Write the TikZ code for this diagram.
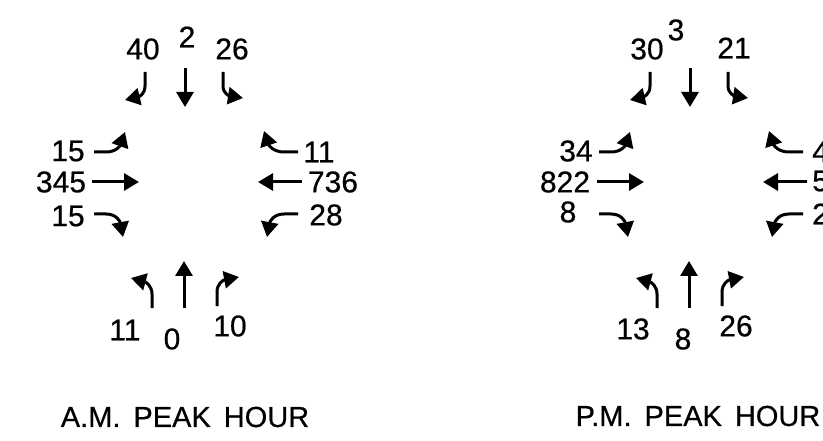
\documentclass[tikz,border=0pt]{standalone}
\usepackage{fontspec}
\setmainfont[FakeBold=0.5]{Liberation Sans}
\usetikzlibrary{arrows.meta}
\tikzset{
  mvarrow/.style={line width=3pt,-{Triangle[length=15pt,width=17pt]}},
  vol/.style={inner sep=0pt,font=\fontsize{30}{30}\selectfont},
  title/.style={inner sep=0pt,font=\fontsize{29}{29}\selectfont}
}
\newcommand\turnarrows{%
  % southbound (top)
  \draw[mvarrow] (145,72) -- (145,86) .. controls (145,95) and (138,97) .. (125,100);
  \draw[mvarrow] (185,68) -- (185,107);
  \draw[mvarrow] (223,72) -- (223,86) .. controls (223,94) and (230,96) .. (243,98);
  % eastbound (left)
  \draw[mvarrow] (94,152) -- (106,152) .. controls (116,152) and (120,146) .. (125,132);
  \draw[mvarrow] (92,182) -- (139,182);
  \draw[mvarrow] (94,214) -- (106,214) .. controls (116,214) and (120,221) .. (123,237);
  % westbound (right)
  \draw[mvarrow] (298,152) -- (284,152) .. controls (274,152) and (269,146) .. (264,131);
  \draw[mvarrow] (302,182) -- (258,182);
  \draw[mvarrow] (298,214) -- (284,214) .. controls (274,214) and (270,221) .. (267,237);
  % northbound (bottom)
  \draw[mvarrow] (152,308) -- (152,294) .. controls (152,286) and (146,282) .. (131,278);
  \draw[mvarrow] (184,308) -- (184,261);
  \draw[mvarrow] (217,306) -- (217,292) .. controls (217,284) and (223,280) .. (239,277);
}
\begin{document}
\begin{tikzpicture}[x=1pt,y=-1pt]
\useasboundingbox (0,0) rectangle (823,441);
\clip (0,0) rectangle (823,441);
% A.M. arrows
\begin{scope}
  \turnarrows
\end{scope}
% P.M. arrows
\begin{scope}[xshift=505pt]
  \turnarrows
\end{scope}
% A.M. volumes
\node[vol] (amSBr) at (143,49) {40};
\node[vol] (amSBt) at (187,37) {2};
\node[vol] (amSBl) at (232,49) {26};
\node[vol] (amEBl) at (68,151) {15};
\node[vol] (amEBt) at (61,182) {345};
\node[vol] (amEBr) at (68,216) {15};
\node[vol] (amWBr) at (319,152) {11};
\node[vol] (amWBt) at (333,182) {736};
\node[vol] (amWBl) at (326,215) {28};
\node[vol] (amNBl) at (125,330) {11};
\node[vol] (amNBt) at (172,339) {0};
\node[vol] (amNBr) at (230,326) {10};
\node[title] (amtitle) at (185,417) {A.M.\hspace{13pt}PEAK\hspace{13pt}HOUR};
% P.M. volumes
\node[vol] (pmSBr) at (647,49) {30};
\node[vol] (pmSBt) at (676,30) {3};
\node[vol] (pmSBl) at (734,48) {21};
\node[vol] (pmEBl) at (576,151) {34};
\node[vol] (pmEBt) at (565,182) {822};
\node[vol] (pmEBr) at (568,212) {8};
\node[vol,anchor=west] (pmWBr) at (812,152) {4};
\node[vol,anchor=west] (pmWBt) at (812,181) {5};
\node[vol,anchor=west] (pmWBl) at (812,214) {2};
\node[vol] (pmNBl) at (633,329) {13};
\node[vol] (pmNBt) at (683,339) {8};
\node[vol] (pmNBr) at (736,326) {26};
\node[title] (pmtitle) at (698,416) {P.M.\hspace{13pt}PEAK\hspace{13pt}HOUR};
\end{tikzpicture}
\end{document}
